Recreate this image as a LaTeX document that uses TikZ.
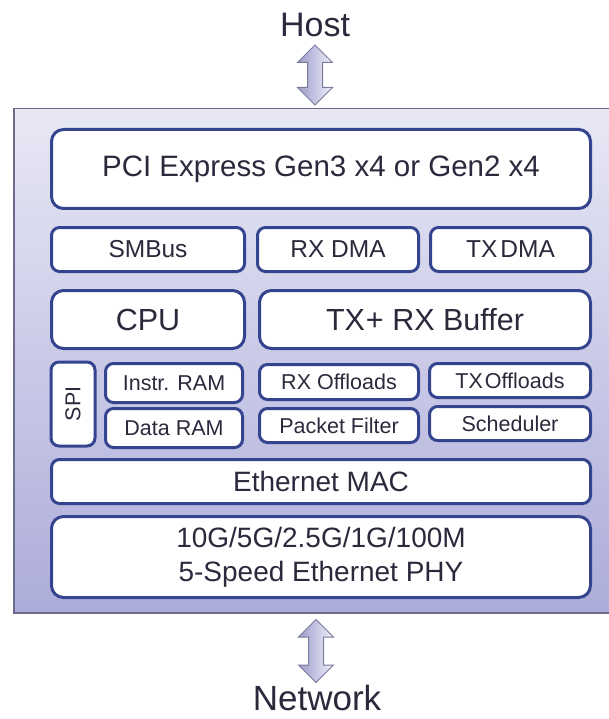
\documentclass[tikz,border=0pt]{standalone}
\usepackage{fontspec}
\setmainfont{Liberation Sans}
\usetikzlibrary{shapes.arrows}
\definecolor{bordc}{HTML}{34448F}
\definecolor{txtc}{HTML}{2A2A3C}
\definecolor{outtop}{HTML}{E8E8F5}
\definecolor{outbot}{HTML}{ACACDA}
\definecolor{outln}{HTML}{6B6B8E}
\definecolor{arrl}{HTML}{F0F0FA}
\definecolor{arrd}{HTML}{9C9CCC}
\definecolor{arrb}{HTML}{7A7A9C}
\begin{document}
\begin{tikzpicture}[x=1pt,y=-1pt,
  blk/.style={draw=bordc, line width=3pt, fill=white, rounded corners=12pt,
    anchor=north west, inner sep=0pt, text=txtc, align=center},
  sblk/.style={blk, rounded corners=8pt},
  fA/.style={font=\fontsize{29.5}{34}\selectfont},
  fB/.style={font=\fontsize{24.5}{28}\selectfont},
  fC/.style={font=\fontsize{30.5}{35}\selectfont},
  fD/.style={font=\fontsize{21.5}{25}\selectfont},
  fE/.style={font=\fontsize{28}{34}\selectfont},
  lbl/.style={text=txtc, inner sep=0pt},
  darrow/.style={double arrow, rotate=90, inner sep=0pt, minimum width=34pt,
    double arrow head extend=10pt, draw=arrb, line width=1pt,
    left color=arrd, right color=arrl}
]
\useasboundingbox (0,0) rectangle (609,719);
% chip outline
\node[draw=outln, line width=1.5pt, top color=outtop, bottom color=outbot,
  anchor=north west, inner sep=0pt, minimum width=620pt, minimum height=504pt] (chip) at (13,108) {};
% blocks
\node[blk, fA, minimum width=539pt, minimum height=79pt] (pci) at (50,128) {PCI Express Gen3 x4 or Gen2 x4};
\node[sblk, fB, minimum width=193pt, minimum height=44pt] (smbus) at (50,226) {SMBus};
\node[sblk, fB, minimum width=161pt, minimum height=44pt] (rxdma) at (256,226) {RX DMA};
\node[sblk, fB, minimum width=160pt, minimum height=44pt] (txdma) at (429,226) {TX\kern3pt DMA};
\node[blk, fC, minimum width=193pt, minimum height=58pt] (cpu) at (50,289) {CPU};
\node[blk, fC, minimum width=331pt, minimum height=58pt] (buf) at (258,289) {TX\kern1pt+ RX Buffer};
\node[sblk, fD, anchor=center, rotate=90, minimum width=84pt, minimum height=44pt] (spi) at (73,404) {SPI};
\node[sblk, fD, minimum width=137pt, minimum height=39pt] (iram) at (104,362) {Instr. RAM};
\node[sblk, fD, minimum width=137pt, minimum height=39pt] (dram) at (104,407) {Data RAM};
\node[sblk, fD, minimum width=159pt, minimum height=35pt] (rxoff) at (258,363) {RX Offloads};
\node[sblk, fD, minimum width=161pt, minimum height=34pt] (txoff) at (428,362) {TX\kern2pt Offloads};
\node[sblk, fD, minimum width=159pt, minimum height=34pt] (pktf) at (258,407) {Packet Filter};
\node[sblk, fD, minimum width=161pt, minimum height=34pt] (sched) at (428,405) {Scheduler};
\node[sblk, fE, minimum width=539pt, minimum height=44pt] (mac) at (50,458) {Ethernet MAC};
\node[blk, fE, minimum width=539pt, minimum height=81pt] (phy) at (50,515) {10G/5G/2.5G/1G/100M\\5-Speed Ethernet PHY};
% external labels and arrows
\node[lbl, anchor=base, font=\fontsize{34}{40}\selectfont] (host) at (315,37) {Host};
\node[lbl, anchor=base, font=\fontsize{35}{41}\selectfont] (net) at (317,710) {Network};
\node[darrow, minimum height=60pt] (uparr) at (315,75) {\rule{0pt}{14pt}};
\node[darrow, minimum height=63pt] (dnarr) at (316,651) {\rule{0pt}{14pt}};
\end{tikzpicture}
\end{document}
